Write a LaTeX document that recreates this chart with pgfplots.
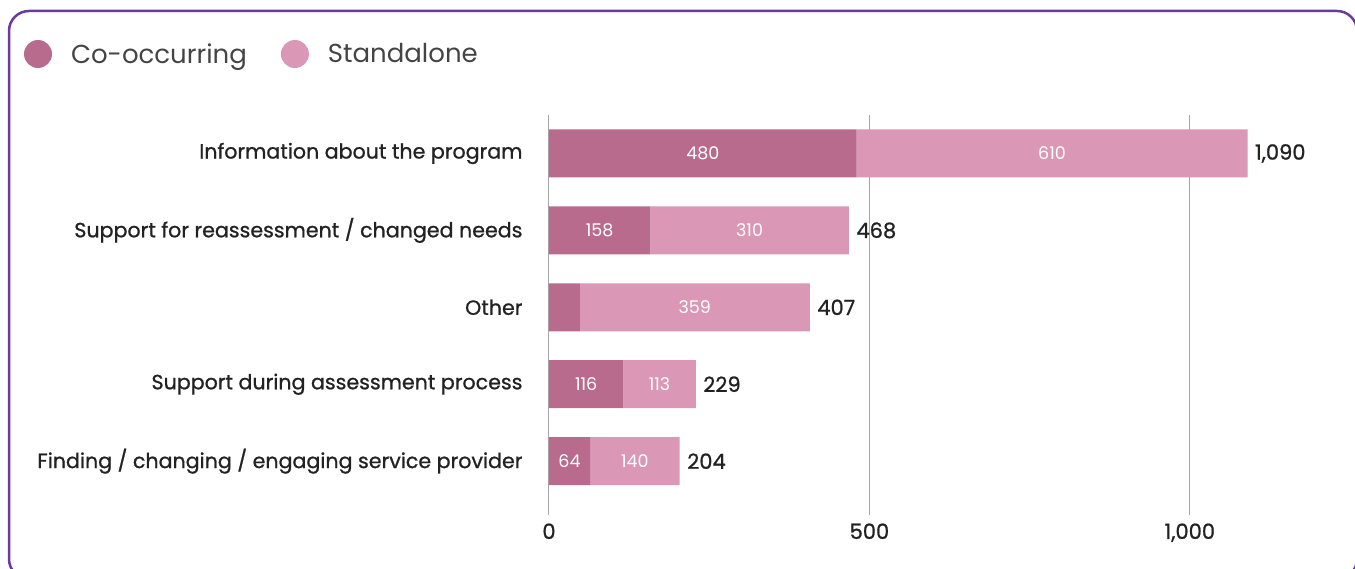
\documentclass[border=0pt]{standalone}
\usepackage{pgfplots}
\usepackage{pgfplotstable}
\pgfplotsset{compat=1.18}
\usepackage{fontspec}
\setmainfont{Poppins}
\newfontfamily\popmed{Poppins}[FakeBold=0.9]
\definecolor{coocc}{HTML}{B96B8E}
\definecolor{stand}{HTML}{DA97B6}
\definecolor{framec}{HTML}{6A3AA0}
\definecolor{txt}{HTML}{222222}
\definecolor{legtxt}{HTML}{444444}
\pgfplotstableread{
y co st colab stlab
0 480 610 480 610
1 158 310 158 310
2 48 359 {} 359
3 116 113 116 113
4 64 140 64 140
}\data
\tikzset{inlab/.style={text=white, font=\fontsize{17.5}{19}\selectfont},
         totlab/.style={text=txt, anchor=west, xshift=4pt, font=\popmed\fontsize{21}{23}\selectfont}}
\begin{document}
\begin{tikzpicture}
\useasboundingbox (0pt,0pt) rectangle (1355pt,569pt);
\draw[framec, line width=2.5pt, rounded corners=20pt] (9pt,-10pt) rectangle (1357pt,558pt);
\begin{axis}[
  at={(549pt,54pt)}, anchor=south west,
  scale only axis, width=769pt, height=400pt,
  xbar stacked, bar width=48pt,
  xmin=0, xmax=1200, ymin=-0.5, ymax=4.7, y dir=reverse,
  ytick={0,1,2,3,4},
  yticklabels={Information about the program, Support for reassessment / changed needs, Other, Support during assessment process, Finding / changing / engaging service provider},
  xtick={0,500,1000},
  xmajorgrids, grid style={color=black!35, line width=1pt},
  axis line style={draw=none},
  major tick length=0pt,
  tick label style={text=txt},
  yticklabel style={font=\popmed\fontsize{20.6}{23}\selectfont, xshift=-23pt},
  xticklabel style={font=\popmed\fontsize{21}{23}\selectfont, yshift=-5pt},
  /pgf/number format/assume math mode=true,
  /pgf/number format/1000 sep={,},
  legend columns=2,
  legend image code/.code={\fill[#1,draw=none] (14pt,0pt) circle (14pt);},
  legend style={at={(rel axis cs:-0.6827,1.1525)}, anchor=west, draw=none, fill=none,
    inner sep=0pt, outer sep=0pt,
    font=\fontsize{26}{30}\selectfont, text=legtxt,
    /tikz/every even column/.append style={column sep=32pt}},
  legend cell align=left,
  clip=false,
]
\addplot[fill=coocc, draw=none, nodes near coords, point meta=explicit symbolic,
  every node near coord/.append style={inlab, anchor=center}]
  table[x=co, y=y, meta=colab] {\data};
\addlegendentry{\hspace{17pt}Co-occurring}
\addplot[fill=stand, draw=none, nodes near coords, point meta=explicit symbolic,
  every node near coord/.append style={inlab, anchor=center}]
  table[x=st, y=y, meta=stlab] {\data};
\addlegendentry{\hspace{17pt}Standalone}
\node[totlab] at (axis cs:1090,0) {1,090};
\node[totlab] at (axis cs:468,1) {468};
\node[totlab] at (axis cs:407,2) {407};
\node[totlab] at (axis cs:229,3) {229};
\node[totlab] at (axis cs:204,4) {204};
\end{axis}
\end{tikzpicture}
\end{document}
